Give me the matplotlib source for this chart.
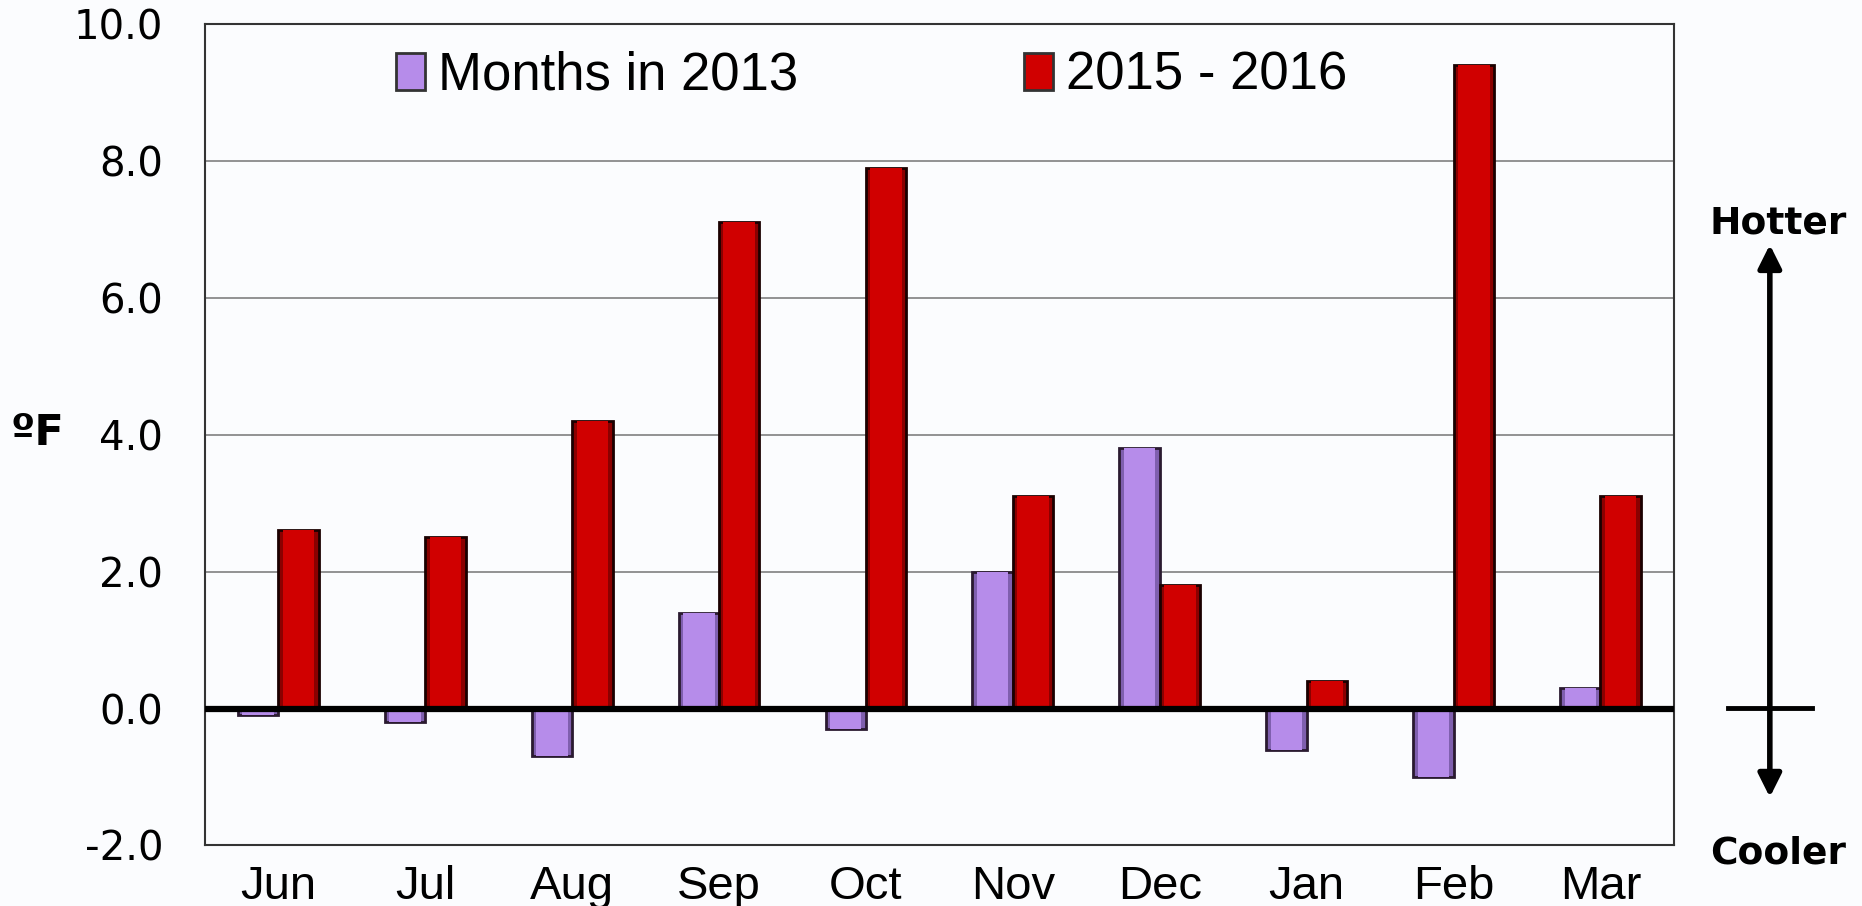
import matplotlib
matplotlib.use('Agg')
import matplotlib.pyplot as plt
import numpy as np

# 数据
months = ['Jun', 'Jul', 'Aug', 'Sep', 'Oct', 'Nov', 'Dec', 'Jan', 'Feb', 'Mar']
temps_2013 = [-0.1, -0.2, -0.7, 1.4, -0.3, 2.0, 3.8, -0.6, -1.0, 0.3]
temps_2015_2016 = [2.6, 2.5, 4.2, 7.1, 7.9, 3.1, 1.8, 0.4, 9.4, 3.1]
y_ticks = [-2.0, 0.0, 2.0, 4.0, 6.0, 8.0, 10.0]

bg = '#fbfcfe'
purple = '#b68cea'
red = '#d00000'

fig = plt.figure(figsize=(18.62, 9.06), dpi=100, facecolor=bg)
ax = fig.add_axes([0.110, 0.0668, 0.789, 0.907], facecolor=bg)

x = np.arange(len(months))
w = 0.275

# 柱状图（外层深色 + 内层主色，模拟立体边缘）
ax.bar(x - w / 2, temps_2013, w, color='#7f5fae', edgecolor='#2a1a30', linewidth=2, zorder=3)
ax.bar(x + w / 2, temps_2015_2016, w, color='#8a0000', edgecolor='#1a0000', linewidth=2, zorder=3)
ax.bar(x - w / 2, temps_2013, w * 0.78, color=purple, linewidth=0, zorder=3.5,
       label='Months in 2013')
ax.bar(x + w / 2, temps_2015_2016, w * 0.78, color=red, linewidth=0, zorder=3.5,
       label='2015 - 2016')

ax.axhline(0, color='black', linewidth=4.5, zorder=4)

ax.set_xlim(-0.5, len(months) - 0.5)
ax.set_ylim(-2, 10)
ax.set_yticks(y_ticks)
ax.set_yticklabels([f'{t:.1f}' for t in y_ticks], fontsize=29, family='DejaVu Sans')
ax.set_xticks(x)
ax.set_xticklabels(months, fontsize=34, family='Liberation Sans')
ax.tick_params(axis='y', length=0, pad=30)
ax.tick_params(axis='x', length=0, pad=14)
ax.grid(axis='y', color='#808080', linewidth=1.2, zorder=0)
for s in ax.spines.values():
    s.set_color('#333333')
    s.set_linewidth(1.5)

leg = ax.legend(loc='upper center', bbox_to_anchor=(0.454, 1.012), ncol=2, frameon=False,
                prop={'family': ['Liberation Sans Narrow', 'Liberation Sans'], 'size': 38},
                handlelength=0.55, handleheight=0.7, handletextpad=0.25, columnspacing=4.27,
                borderaxespad=0.3)
for h in leg.legend_handles:
    h.set_edgecolor('#333333')
    h.set_linewidth(2)

# 左侧单位
fig.text(0.02, 0.522, 'ºF', fontsize=31, fontweight='bold', family='DejaVu Sans',
         ha='center', va='center')

# 右侧箭头
fig.text(0.955, 0.753, 'Hotter', fontsize=27, fontweight='bold', family='DejaVu Sans',
         ha='center', va='center')
fig.text(0.955, 0.058, 'Cooler', fontsize=27, fontweight='bold', family='DejaVu Sans',
         ha='center', va='center')
ax.annotate('', xy=(0.9505, 0.733), xytext=(0.9505, 0.215), xycoords='figure fraction',
            arrowprops=dict(arrowstyle='-|>', color='black', lw=4, mutation_scale=35))
ax.annotate('', xy=(0.9505, 0.117), xytext=(0.9505, 0.22), xycoords='figure fraction',
            arrowprops=dict(arrowstyle='-|>', color='black', lw=4, mutation_scale=35))
fig.add_artist(plt.Line2D([0.928, 0.973], [0.219, 0.219], color='black', lw=3.5,
                          transform=fig.transFigure))

fig.savefig('out.png', dpi=100, facecolor=bg)
